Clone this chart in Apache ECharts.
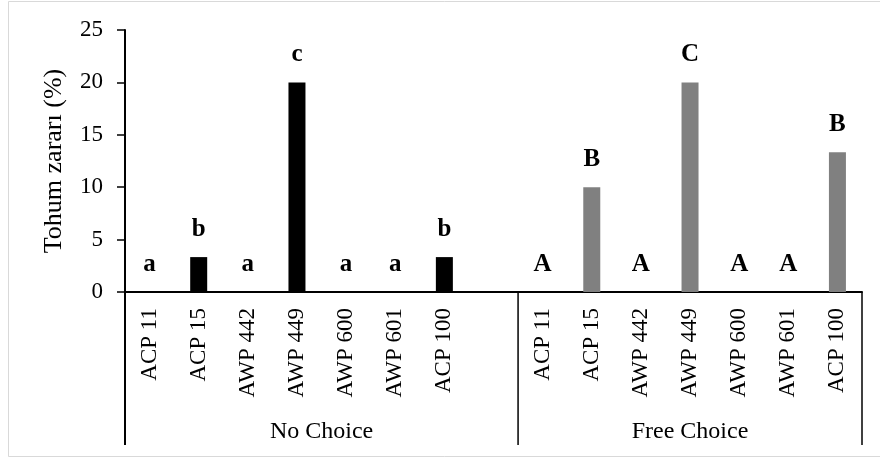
<!DOCTYPE html>
<html>
<head>
<meta charset="utf-8">
<script src="https://cdn.jsdelivr.net/npm/echarts@6/dist/echarts.min.js"></script>
<style>html,body{margin:0;padding:0;background:#fff}#c{width:880px;height:459px}</style>
</head>
<body>
<div id="c"></div>
<script>
const categories = ['ACP 11','ACP 15','AWP 442','AWP 449','AWP 600','AWP 601','ACP 100'];
const noChoice = [0, 3.33, 0, 20, 0, 0, 3.33];
const freeChoice = [0, 10, 0, 20, 0, 0, 13.33];
const noChoiceLetters = ['a','b','a','c','a','a','b'];
const freeChoiceLetters = ['A','B','A','C','A','A','B'];
const groups = ['No Choice','Free Choice'];
const yTicks = [0, 5, 10, 15, 20, 25];

const FONT = 'Liberation Serif, Times New Roman, serif';
const n = categories.length;
const xData = categories.concat(['']).concat(categories);
const s1 = noChoice.concat(new Array(n + 1).fill('-'));
const s2 = new Array(n + 1).fill('-').concat(freeChoice);
const l1 = noChoiceLetters.concat(new Array(n + 1).fill(''));
const l2 = new Array(n + 1).fill('').concat(freeChoiceLetters);

const chart = echarts.init(document.getElementById('c'), null, {renderer: 'canvas'});
const labelStyle = (letters) => ({
  show: true, position: 'top', distance: 15,
  fontFamily: FONT, fontWeight: 'bold', fontSize: 25, color: '#000',
  formatter: p => letters[p.dataIndex]
});
chart.setOption({
  animation: false,
  backgroundColor: '#fff',
  grid: {left: 125, right: 18, top: 30, bottom: 167, containLabel: false, outerBoundsMode: 'none'},
  xAxis: {
    type: 'category', data: xData,
    axisLine: {lineStyle: {color: '#000', width: 2}},
    axisTick: {show: false},
    axisLabel: {rotate: 90, interval: 0, margin: 16, fontFamily: FONT, fontSize: 23, color: '#000'}
  },
  yAxis: {
    type: 'value', min: yTicks[0], max: yTicks[yTicks.length - 1], interval: 5,
    name: 'Tohum zararı (%)', nameLocation: 'middle', nameGap: 58,
    nameTextStyle: {fontFamily: FONT, fontSize: 26, color: '#000'},
    axisLine: {show: true, lineStyle: {color: '#000', width: 2}},
    axisTick: {show: true, length: 8, lineStyle: {color: '#000', width: 1.5}},
    axisLabel: {margin: 22, fontFamily: FONT, fontSize: 23, color: '#000'},
    splitLine: {show: false}
  },
  series: [
    {type: 'bar', data: s1, barWidth: 17, barGap: '-100%', itemStyle: {color: '#000'}, label: labelStyle(l1)},
    {type: 'bar', data: s2, barWidth: 17, barGap: '-100%', itemStyle: {color: '#808080'}, label: labelStyle(l2)}
  ]
});

// group dividers and group labels placed through the category axis scale
const x0 = chart.convertToPixel({xAxisIndex: 0}, 0);
const x1 = chart.convertToPixel({xAxisIndex: 0}, 1);
const band = x1 - x0;
const yZero = chart.convertToPixel({yAxisIndex: 0}, 0);
const yBottom = 445;
const leftB = x0 - band / 2;
const midB = chart.convertToPixel({xAxisIndex: 0}, n + 1) - band / 2;
const rightB = chart.convertToPixel({xAxisIndex: 0}, 2 * n) + band / 2;
chart.setOption({
  graphic: [
    {type: 'rect', silent: true, z: -1, shape: {x: 8.5, y: 1.5, width: 875, height: 455},
     style: {fill: 'none', stroke: '#d9d9d9', lineWidth: 1}},
    {type: 'line', shape: {x1: leftB, y1: yZero, x2: leftB, y2: yBottom}, style: {stroke: '#000', lineWidth: 2}},
    {type: 'line', shape: {x1: midB, y1: yZero, x2: midB, y2: yBottom}, style: {stroke: '#000', lineWidth: 1.5}},
    {type: 'line', shape: {x1: rightB, y1: yZero, x2: rightB, y2: yBottom}, style: {stroke: '#000', lineWidth: 1.5}},
    {type: 'text', x: (leftB + midB) / 2, y: 432,
     style: {text: groups[0], font: '24px ' + FONT, fill: '#000', textAlign: 'center', textVerticalAlign: 'middle'}},
    {type: 'text', x: (midB + rightB) / 2, y: 432,
     style: {text: groups[1], font: '24px ' + FONT, fill: '#000', textAlign: 'center', textVerticalAlign: 'middle'}}
  ]
});
</script>
</body>
</html>
